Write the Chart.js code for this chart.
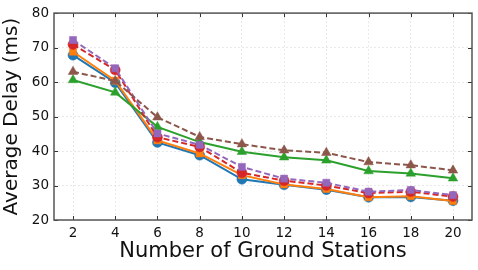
<!DOCTYPE html>
<html>
<head>
<meta charset="utf-8">
<script src="https://cdn.jsdelivr.net/npm/chart.js@4"></script>
<style>
  html, body { margin: 0; padding: 0; background: #fff; }
  #wrap { width: 478px; height: 270px; }
</style>
</head>
<body>
<div id="wrap"><canvas id="delayChart" width="478" height="270"></canvas></div>
<script>
// ground stations on the x axis
const stations = [2, 4, 6, 8, 10, 12, 14, 16, 18, 20];
const yTicks = [20, 30, 40, 50, 60, 70, 80];

// average delay (ms) per series
const seriesBlue   = [67.8, 59.8, 42.5, 38.8, 31.8, 30.2, 28.8, 26.6, 26.7, 25.6];
const seriesOrange = [68.8, 60.4, 43.1, 39.3, 33.0, 30.3, 29.0, 26.6, 26.9, 25.5];
const seriesGreen  = [60.6, 57.0, 47.0, 42.6, 39.8, 38.2, 37.3, 34.2, 33.5, 32.1];
const seriesRed    = [70.9, 63.5, 44.0, 41.2, 33.7, 31.4, 30.0, 27.8, 28.2, 26.8];
const seriesPurple = [72.2, 64.0, 45.1, 41.8, 35.4, 32.0, 30.8, 28.2, 28.7, 27.2];
const seriesBrown  = [63.0, 60.3, 49.8, 44.1, 42.0, 40.2, 39.5, 36.8, 35.9, 34.4];

const font = "'DejaVu Sans', sans-serif";

function pts(vals) {
    return stations.map((s, i) => ({ x: s, y: vals[i] }));
}

function makeSet(vals, color, shape, dashed, order) {
    return {
        data: pts(vals),
        borderColor: color,
        backgroundColor: color,
        borderWidth: 2,
        borderDash: dashed ? [6, 3] : [],
        pointStyle: shape,
        pointRadius: shape === 'triangle' ? 5.5 : 5,
        pointBorderWidth: 0.5,
        fill: false,
        tension: 0,
        order: order
    };
}

// inward tick marks + box frame, matplotlib style
const frame = {
    id: 'frame',
    afterDraw(chart) {
        const { ctx, chartArea: a, scales } = chart;
        ctx.save();
        ctx.strokeStyle = '#333';
        ctx.lineWidth = 1;
        ctx.setLineDash([]);
        ctx.beginPath();
        stations.forEach(v => {
            const x = Math.round(scales.x.getPixelForValue(v)) + 0.5;
            ctx.moveTo(x, a.bottom); ctx.lineTo(x, a.bottom - 4);
            ctx.moveTo(x, a.top); ctx.lineTo(x, a.top + 4);
        });
        yTicks.forEach(v => {
            const y = Math.round(scales.y.getPixelForValue(v)) + 0.5;
            ctx.moveTo(a.left, y); ctx.lineTo(a.left + 4, y);
            ctx.moveTo(a.right, y); ctx.lineTo(a.right - 4, y);
        });
        ctx.stroke();
        ctx.strokeStyle = '#555';
        ctx.lineWidth = 1.5;
        ctx.strokeRect(a.left, a.top, a.right - a.left, a.bottom - a.top);
        ctx.restore();
    }
};

const ctx = document.getElementById('delayChart').getContext('2d');
const delayChart = new Chart(ctx, {
    type: 'line',
    data: {
        datasets: [
            makeSet(seriesBlue, '#1f77b4', 'circle', false, 6),
            makeSet(seriesOrange, '#ff7f0e', 'rect', false, 5),
            makeSet(seriesGreen, '#2ca02c', 'triangle', false, 4),
            makeSet(seriesRed, '#d62728', 'circle', true, 3),
            makeSet(seriesPurple, '#9467bd', 'rect', true, 2),
            makeSet(seriesBrown, '#8c564b', 'triangle', true, 1)
        ]
    },
    options: {
        responsive: false,
        animation: false,
        layout: { padding: { top: 12, right: 6, left: 0, bottom: 0 } },
        plugins: { legend: { display: false }, tooltip: { enabled: false } },
        scales: {
            x: {
                type: 'linear',
                min: 1.1,
                max: 20.9,
                afterBuildTicks: axis => { axis.ticks = stations.map(v => ({ value: v })); },
                afterFit: axis => { axis.height = 50; },
                grid: { color: '#e2e2e2', drawTicks: false, lineWidth: 0.8 },
                border: { display: false, dash: [2, 2] },
                ticks: { color: '#111', font: { family: font, size: 13.5 }, padding: 5, maxRotation: 0 },
                title: { display: true, text: 'Number of Ground Stations', color: '#111',
                         font: { family: font, size: 21 }, padding: { top: 0, bottom: 6 } }
            },
            y: {
                min: 20,
                max: 80,
                afterBuildTicks: axis => { axis.ticks = yTicks.map(v => ({ value: v })); },
                afterFit: axis => { axis.width = 54; },
                grid: { color: '#e2e2e2', drawTicks: false, lineWidth: 0.8 },
                border: { display: false, dash: [2, 2] },
                ticks: { color: '#111', font: { family: font, size: 13.5 }, padding: 5 },
                title: { display: true, text: 'Average Delay (ms)', color: '#111',
                         font: { family: font, size: 20 }, padding: { top: 0, bottom: 1 } }
            }
        }
    },
    plugins: [frame]
});
</script>
</body>
</html>
